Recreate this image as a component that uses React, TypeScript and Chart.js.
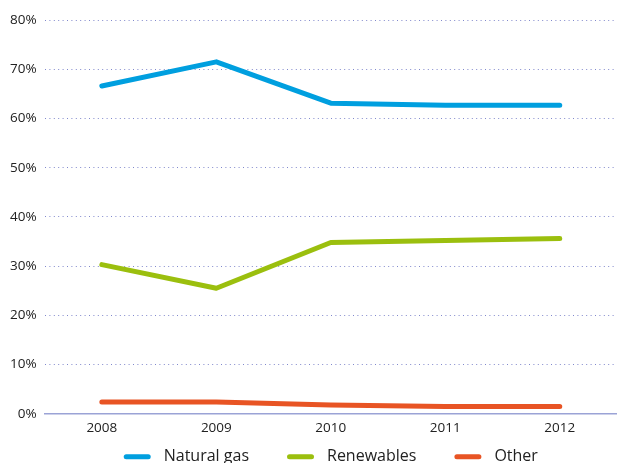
import React, { useEffect, useRef } from "react";
import { Chart, registerables } from "chart.js";

Chart.register(...registerables);

const years = ["2008", "2009", "2010", "2011", "2012"];
const naturalGas = [66.6, 71.5, 63.1, 62.7, 62.7];
const renewables = [30.3, 25.5, 34.8, 35.2, 35.6];
const other = [2.4, 2.4, 1.8, 1.5, 1.5];

const BLUE = "#009fdf";
const GREEN = "#9bbf0e";
const ORANGE = "#e85424";
const FONT = "Open Sans";

const bottomLegend = {
  id: "bottomLegend",
  afterDraw(chart: any) {
    const ctx = chart.ctx;
    const area = chart.chartArea;
    const ds = chart.data.datasets;
    ctx.save();
    ctx.font = `16px "${FONT}"`;
    const boxW = 27;
    const textGap = 13;
    const itemGap = 38;
    const widths = ds.map((d: any) => boxW + textGap + ctx.measureText(d.label).width);
    const total = widths.reduce((a: number, b: number) => a + b, 0) + itemGap * (ds.length - 1);
    let x = (area.left + area.right) / 2 - total / 2;
    const y = area.bottom + 43;
    ds.forEach((d: any, i: number) => {
      ctx.strokeStyle = d.borderColor;
      ctx.lineWidth = 5;
      ctx.lineCap = "round";
      ctx.beginPath();
      ctx.moveTo(x + 2.5, y);
      ctx.lineTo(x + boxW - 2.5, y);
      ctx.stroke();
      ctx.fillStyle = "#222";
      ctx.textBaseline = "middle";
      ctx.textAlign = "left";
      ctx.fillText(d.label, x + boxW + textGap, y);
      x += widths[i] + itemGap;
    });
    ctx.restore();
  },
};

export default function App() {
  const ref = useRef<HTMLCanvasElement | null>(null);
  useEffect(() => {
    if (!ref.current) return;
    const mk = (label: string, data: number[], color: string) => ({
      label,
      data,
      borderColor: color,
      backgroundColor: color,
      borderWidth: 5,
      pointRadius: 0,
      tension: 0,
      borderCapStyle: "round" as const,
      borderJoinStyle: "round" as const,
    });
    const chart = new Chart(ref.current, {
      type: "line",
      data: {
        labels: years,
        datasets: [
          mk("Natural gas", naturalGas, BLUE),
          mk("Renewables", renewables, GREEN),
          mk("Other", other, ORANGE),
        ],
      },
      plugins: [bottomLegend],
      options: {
        animation: false,
        responsive: false,
        maintainAspectRatio: false,
        layout: { padding: { top: 20, right: 0, left: 2, bottom: 21 } },
        plugins: {
          tooltip: { enabled: false },
          legend: { display: false },
        },
        scales: {
          x: {
            offset: true,
            grid: { display: false, drawTicks: false },
            border: { display: true, color: "#9ba3d6", width: 1.5 },
            ticks: {
              color: "#222",
              font: { family: FONT, size: 13.5 },
              padding: 6,
            },
          },
          y: {
            min: 0,
            max: 80,
            grid: {
              color: "#8088cc",
              lineWidth: 1,
              drawTicks: false,
            },
            border: { display: false, dash: [1, 3.4] },
            ticks: {
              stepSize: 10,
              color: "#222",
              padding: 8,
              font: { family: FONT, size: 13.5 },
              callback: (v: any) => v + "%",
            },
          },
        },
      },
    });
    return () => chart.destroy();
  }, []);
  return (
    <div style={{ position: "fixed", left: 0, top: 0, width: 617, height: 463, overflow: "hidden", background: "#fff" }}>
      <canvas ref={ref} width={617} height={463} style={{ display: "block" }} />
    </div>
  );
}
